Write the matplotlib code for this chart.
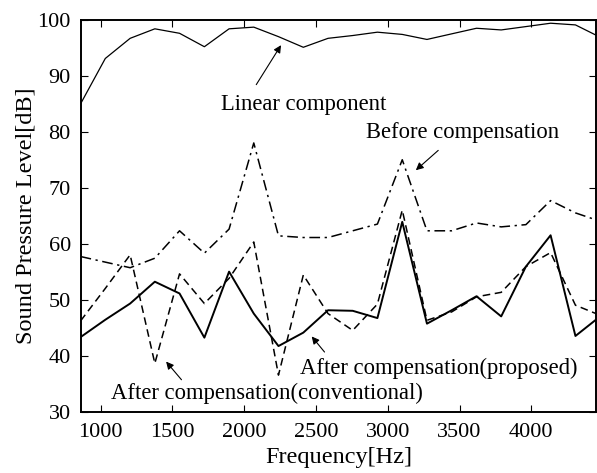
import matplotlib.pyplot as plt
import numpy as np

plt.rcParams['font.family'] = ['Liberation Serif', 'DejaVu Serif']

# frequency bins (Hz)
freq = [861, 1033, 1206, 1378, 1550, 1723, 1895, 2067, 2239, 2412, 2584,
        2756, 2928, 3101, 3273, 3445, 3618, 3790, 3962, 4134, 4307, 4479]

linear = [85.0, 93.1, 96.7, 98.4, 97.6, 95.2, 98.4, 98.7, 97.0, 95.1, 96.7,
          97.2, 97.8, 97.4, 96.5, 97.5, 98.5, 98.2, 98.8, 99.4, 99.1, 96.9]
before = [57.7, 56.7, 55.7, 57.4, 62.3, 58.3, 62.6, 78.0, 61.4, 61.1, 61.1,
          62.3, 63.5, 75.0, 62.3, 62.3, 63.7, 63.0, 63.4, 67.7, 65.5, 64.0]
proposed = [43.3, 46.4, 49.3, 53.2, 51.1, 43.2, 55.0, 47.5, 41.7, 44.1, 48.1,
            48.0, 46.7, 63.9, 45.7, 48.1, 50.6, 47.0, 55.9, 61.5, 43.5, 47.0]
conventional = [46.2, 52.0, 58.0, 38.6, 54.6, 49.3, 53.8, 60.3, 36.5, 54.4, 47.5,
                44.5, 49.2, 66.0, 46.3, 47.8, 50.5, 51.3, 55.9, 58.4, 49.0, 47.2]

fig = plt.figure(figsize=(5.97, 4.73), dpi=100)
ax = fig.add_axes([0.135, 0.13, 0.864, 0.828])

ax.plot(freq, linear, color='black', lw=0.9)
ax.plot(freq, before, color='black', lw=1.1, dashes=(7, 3, 1.5, 3))
ax.plot(freq, proposed, color='black', lw=1.4)
ax.plot(freq, conventional, color='black', lw=1.1, dashes=(5, 3))

ax.set_xlim(861, 4453)
ax.set_ylim(30, 100)
ax.set_xticks([1000, 1500, 2000, 2500, 3000, 3500, 4000])
ax.set_yticks(range(30, 101, 10))
ax.tick_params(direction='in', length=5, top=True, right=True, labelsize=16)
ax.tick_params(axis='x', pad=8)
ax.tick_params(axis='y', pad=7)
for s in ax.spines.values():
    s.set_linewidth(1.4)

ax.set_xlabel('Frequency[Hz]', fontsize=17.5, labelpad=4)
ax.set_ylabel('Sound Pressure Level[dB]', fontsize=17.5, labelpad=1)

arrow = dict(arrowstyle='-|>', color='black', lw=0.8, mutation_scale=11)
ax.text(1838, 84.8, 'Linear component', fontsize=16.3, va='center')
ax.annotate('', xy=(2267, 95.9), xytext=(2074, 88.0), arrowprops=arrow)

ax.text(2850, 79.9, 'Before compensation', fontsize=16.3, va='center')
ax.annotate('', xy=(3181, 72.8), xytext=(3366, 77.0), arrowprops=arrow)

ax.text(4324, 37.7, 'After compensation(proposed)', fontsize=16.3, va='center', ha='right')
ax.annotate('', xy=(2458, 43.8), xytext=(2572, 40.25), arrowprops=arrow)

ax.text(1075, 33.2, 'After compensation(conventional)', fontsize=16.3, va='center')
ax.annotate('', xy=(1444, 39.3), xytext=(1576, 35.3), arrowprops=arrow)

fig.savefig('out.png', dpi=100)
